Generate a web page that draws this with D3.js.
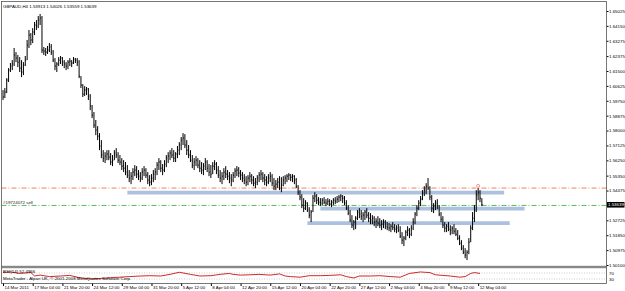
<!DOCTYPE html>
<html>
<head>
<meta charset="utf-8">
<script src="https://cdn.jsdelivr.net/npm/d3@7"></script>
<style>
  body { margin: 0; background: #fff; }
  svg { display: block; font-family: "Liberation Sans", Arial, sans-serif; }
</style>
</head>
<body>
<div id="chart"></div>
<script>
// GBPAUD H4 bars
const highs = [
  1.6038,1.6050,1.6108,1.6167,1.6197,1.6214,1.6285,1.6261,1.6244,1.6232,
  1.6214,1.6202,1.6238,1.6332,1.6391,1.6373,1.6402,1.6438,1.6449,1.6473,
  1.6485,1.6473,1.6291,1.6285,1.6297,1.6314,1.6308,1.6273,1.6226,1.6202,
  1.6232,1.6238,1.6232,1.6214,1.6202,1.6214,1.6226,1.6214,1.6232,1.6226,
  1.6226,1.6214,1.6120,1.6073,1.6061,1.6056,1.6050,1.6014,1.5950,1.5909,
  1.5862,1.5826,1.5785,1.5744,1.5685,1.5673,1.5685,1.5685,1.5668,1.5656,
  1.5685,1.5697,1.5673,1.5656,1.5638,1.5626,1.5615,1.5597,1.5568,1.5556,
  1.5579,1.5597,1.5591,1.5568,1.5556,1.5579,1.5591,1.5579,1.5556,1.5538,
  1.5544,1.5568,1.5579,1.5615,1.5638,1.5626,1.5603,1.5626,1.5656,1.5673,
  1.5685,1.5697,1.5685,1.5673,1.5709,1.5732,1.5762,1.5785,1.5779,1.5744,
  1.5715,1.5685,1.5656,1.5638,1.5650,1.5638,1.5626,1.5615,1.5609,1.5638,
  1.5626,1.5603,1.5597,1.5615,1.5626,1.5615,1.5591,1.5568,1.5556,1.5579,
  1.5591,1.5568,1.5556,1.5544,1.5556,1.5579,1.5591,1.5585,1.5568,1.5556,
  1.5544,1.5532,1.5538,1.5556,1.5544,1.5532,1.5521,1.5538,1.5556,1.5568,
  1.5556,1.5544,1.5532,1.5544,1.5556,1.5544,1.5521,1.5509,1.5521,1.5532,
  1.5526,1.5532,1.5538,1.5544,1.5550,1.5544,1.5544,1.5538,1.5521,1.5479,
  1.5450,1.5426,1.5403,1.5391,1.5379,1.5350,1.5333,1.5421,1.5438,1.5426,
  1.5409,1.5403,1.5403,1.5409,1.5397,1.5403,1.5397,1.5391,1.5403,1.5409,
  1.5415,1.5421,1.5426,1.5421,1.5415,1.5391,1.5362,1.5333,1.5303,1.5274,
  1.5297,1.5333,1.5344,1.5333,1.5321,1.5333,1.5344,1.5321,1.5315,1.5303,
  1.5297,1.5285,1.5297,1.5285,1.5274,1.5279,1.5274,1.5262,1.5256,1.5250,
  1.5262,1.5250,1.5244,1.5250,1.5238,1.5203,1.5180,1.5215,1.5238,1.5227,
  1.5244,1.5285,1.5321,1.5362,1.5391,1.5415,1.5450,1.5473,1.5491,1.5521,
  1.5473,1.5421,1.5374,1.5391,1.5397,1.5362,1.5321,1.5297,1.5262,1.5250,
  1.5262,1.5244,1.5238,1.5250,1.5227,1.5215,1.5185,1.5156,1.5127,1.5109,
  1.5097,1.5168,1.5244,1.5321,1.5362,1.5450,1.5462,1.5450,1.54026
];
const lows = [
  1.5979,1.5991,1.6020,1.6085,1.6144,1.6155,1.6179,1.6202,1.6173,1.6144,
  1.6114,1.6126,1.6179,1.6214,1.6285,1.6302,1.6314,1.6361,1.6391,1.6402,
  1.6420,1.6255,1.6244,1.6238,1.6250,1.6261,1.6244,1.6202,1.6155,1.6144,
  1.6179,1.6191,1.6179,1.6167,1.6155,1.6161,1.6179,1.6173,1.6191,1.6197,
  1.6179,1.6108,1.6050,1.5997,1.6003,1.6009,1.5979,1.5920,1.5873,1.5815,
  1.5773,1.5744,1.5685,1.5638,1.5615,1.5609,1.5626,1.5626,1.5597,1.5591,
  1.5626,1.5638,1.5609,1.5597,1.5568,1.5556,1.5538,1.5521,1.5497,1.5485,
  1.5509,1.5532,1.5521,1.5509,1.5497,1.5509,1.5532,1.5521,1.5485,1.5473,
  1.5479,1.5497,1.5509,1.5538,1.5568,1.5556,1.5538,1.5556,1.5585,1.5609,
  1.5626,1.5638,1.5615,1.5615,1.5638,1.5656,1.5685,1.5715,1.5697,1.5656,
  1.5638,1.5615,1.5579,1.5568,1.5591,1.5579,1.5556,1.5544,1.5538,1.5568,
  1.5556,1.5532,1.5521,1.5544,1.5568,1.5544,1.5521,1.5497,1.5485,1.5509,
  1.5521,1.5509,1.5491,1.5473,1.5497,1.5521,1.5532,1.5526,1.5509,1.5497,
  1.5485,1.5473,1.5479,1.5497,1.5485,1.5473,1.5462,1.5479,1.5497,1.5509,
  1.5497,1.5479,1.5473,1.5485,1.5497,1.5473,1.5450,1.5450,1.5462,1.5450,
  1.5438,1.5473,1.5485,1.5497,1.5509,1.5503,1.5497,1.5485,1.5462,1.5421,
  1.5391,1.5344,1.5321,1.5333,1.5321,1.5285,1.5262,1.5321,1.5379,1.5368,
  1.5362,1.5356,1.5362,1.5368,1.5356,1.5362,1.5356,1.5350,1.5362,1.5368,
  1.5374,1.5379,1.5385,1.5374,1.5362,1.5333,1.5303,1.5262,1.5227,1.5215,
  1.5221,1.5274,1.5285,1.5274,1.5262,1.5274,1.5285,1.5262,1.5250,1.5250,
  1.5238,1.5227,1.5238,1.5227,1.5215,1.5227,1.5221,1.5215,1.5209,1.5203,
  1.5215,1.5203,1.5197,1.5203,1.5168,1.5133,1.5121,1.5156,1.5180,1.5168,
  1.5180,1.5215,1.5250,1.5297,1.5333,1.5356,1.5391,1.5415,1.5426,1.5450,
  1.5391,1.5321,1.5315,1.5333,1.5338,1.5297,1.5262,1.5227,1.5203,1.5203,
  1.5209,1.5185,1.5191,1.5191,1.5180,1.5156,1.5127,1.5097,1.5074,1.5050,
  1.5039,1.5074,1.5144,1.5215,1.5262,1.5321,1.5391,1.5379,1.53559
];
const closes = [
  1.5997,1.6026,1.6097,1.6155,1.6179,1.6191,1.6244,1.6226,1.6202,1.6167,
  1.6144,1.6185,1.6214,1.6302,1.6361,1.6332,1.6379,1.6420,1.6414,1.6449,
  1.6461,1.6273,1.6267,1.6261,1.6273,1.6291,1.6261,1.6214,1.6179,1.6191,
  1.6214,1.6226,1.6202,1.6191,1.6179,1.6202,1.6208,1.6197,1.6220,1.6214,
  1.6202,1.6120,1.6067,1.6014,1.6038,1.6044,1.6003,1.5944,1.5891,1.5832,
  1.5803,1.5767,1.5709,1.5656,1.5638,1.5650,1.5662,1.5644,1.5615,1.5626,
  1.5668,1.5656,1.5626,1.5615,1.5591,1.5579,1.5556,1.5538,1.5521,1.5532,
  1.5556,1.5568,1.5544,1.5532,1.5521,1.5556,1.5568,1.5538,1.5509,1.5497,
  1.5521,1.5544,1.5556,1.5597,1.5615,1.5579,1.5568,1.5603,1.5638,1.5650,
  1.5668,1.5656,1.5638,1.5662,1.5685,1.5715,1.5744,1.5756,1.5715,1.5685,
  1.5656,1.5626,1.5597,1.5615,1.5626,1.5597,1.5579,1.5568,1.5591,1.5615,
  1.5579,1.5556,1.5544,1.5591,1.5603,1.5568,1.5538,1.5521,1.5532,1.5556,
  1.5544,1.5532,1.5521,1.5509,1.5538,1.5562,1.5568,1.5550,1.5538,1.5521,
  1.5509,1.5497,1.5521,1.5532,1.5509,1.5491,1.5497,1.5521,1.5538,1.5544,
  1.5521,1.5509,1.5497,1.5521,1.5532,1.5491,1.5473,1.5485,1.5497,1.5462,
  1.5479,1.5509,1.5521,1.5532,1.5538,1.5526,1.5532,1.5509,1.5473,1.5438,
  1.5409,1.5362,1.5344,1.5374,1.5333,1.5303,1.5321,1.5403,1.5415,1.5391,
  1.5379,1.5374,1.5391,1.5379,1.5374,1.5385,1.5368,1.5379,1.5391,1.5385,
  1.5397,1.5409,1.5415,1.5403,1.5374,1.5344,1.5315,1.5274,1.5244,1.5262,
  1.5285,1.5321,1.5309,1.5297,1.5303,1.5321,1.5303,1.5285,1.5274,1.5285,
  1.5262,1.5268,1.5256,1.5244,1.5250,1.5262,1.5238,1.5232,1.5227,1.5238,
  1.5232,1.5221,1.5227,1.5215,1.5180,1.5156,1.5168,1.5203,1.5215,1.5191,
  1.5227,1.5262,1.5309,1.5344,1.5374,1.5397,1.5432,1.5450,1.5473,1.5462,
  1.5409,1.5344,1.5356,1.5374,1.5356,1.5309,1.5279,1.5244,1.5227,1.5238,
  1.5221,1.5215,1.5227,1.5209,1.5191,1.5168,1.5138,1.5109,1.5085,1.5068,
  1.5085,1.5144,1.5227,1.5285,1.5333,1.5421,1.5438,1.5403,1.53639
];

const dateLabels = ["14 Mar 2011","17 Mar 04:00","21 Mar 20:00","24 Mar 12:00","29 Mar 04:00",
  "31 Mar 20:00","5 Apr 12:00","8 Apr 04:00","12 Apr 20:00","15 Apr 12:00","20 Apr 04:00",
  "22 Apr 20:00","27 Apr 12:00","2 May 04:00","4 May 20:00","9 May 12:00","12 May 04:00"];
const barsPerLabel = 16;
const priceTicks = [1.65025,1.64150,1.63275,1.62375,1.61500,1.60625,1.59750,1.58875,1.58000,
  1.57125,1.56250,1.55350,1.54475,1.52725,1.51850,1.50975,1.50100];

// indicator window (red line), sampled along the bars
const rsiBars   = [0,4,9,15,17,20,25,31,36,41,47,52,58,63,68,74,79,85,90,95,101,106,112,117,122,124,
  128,133,138,144,149,152,155,160,165,171,176,182,185,189,192,198,203,209,214,219,225,227,230,233,
  235,241,246,249,252,254,257];
const rsiValues = [73,77,67,73,50,56,46,50,54,39,31,33,39,42,46,50,52,50,61,75,61,50,52,61,67,61,
  56,58,61,56,64,50,46,42,52,52,54,58,46,37,50,50,52,46,42,67,77,75,73,58,56,50,42,46,67,73,67];
const rsiLevels = [70, 30];

const header = "GBPAUD,H4 1.53913 1.54026 1.53559 1.53639";
const lastPrice = 1.53639;
const stopLevel = 1.5462;
const orderLevel = 1.5360;
const orderLabel = "#19724072 sell";
const zonePrices = [1.5435, 1.5341, 1.5256];
const zoneStart  = [67, 171, 164];
const zoneEnd    = [270, 281, 273];

const W = 625, H = 291;
const axisX = 606.5, mainTop = 1.5, sepY = 267, subBottom = 283.5;
const fs = 4.4;

const svg = d3.select("#chart").append("svg")
  .attr("width", W).attr("height", H)
  .attr("viewBox", `0 0 ${W} ${H}`);

const x = d3.scaleLinear().domain([0, 325]).range([3, 606.2]);
const y = d3.scaleLinear().domain([1.50100, 1.65025]).range([265, 11]);
const yR = d3.scaleLinear().domain([0, 100]).range([283.5, 268.5]);

// zones (thick blue lines)
svg.append("g").selectAll("line")
  .data(zonePrices).enter().append("line")
  .attr("x1", (d,i) => x(zoneStart[i])).attr("x2", (d,i) => x(zoneEnd[i]))
  .attr("y1", d => y(d)).attr("y2", d => y(d))
  .attr("stroke", "#abc1dd").attr("stroke-width", 3.6);

// stop and order lines
svg.append("line")
  .attr("x1", 1.5).attr("x2", axisX).attr("y1", y(stopLevel)).attr("y2", y(stopLevel))
  .attr("stroke", "#f2805f").attr("stroke-width", 1).attr("stroke-dasharray", "5,2,1,2");
svg.append("line")
  .attr("x1", 1.5).attr("x2", axisX).attr("y1", y(orderLevel)).attr("y2", y(orderLevel))
  .attr("stroke", "#5cb85c").attr("stroke-width", 1).attr("stroke-dasharray", "5,2,1,2");
svg.append("text").attr("x", 3).attr("y", y(orderLevel) - 1.2)
  .attr("font-size", fs).attr("fill", "#222").text(orderLabel);

// bars
const bars = svg.append("g").attr("stroke", "#000").attr("fill", "none");
bars.selectAll("path")
  .data(closes).enter().append("path")
  .attr("stroke-width", 1)
  .attr("d", (c,i) => `M${x(i)},${y(highs[i])}V${y(lows[i])}M${x(i)},${y(c)}h0.9`);

// order arrow
svg.append("circle")
  .attr("cx", x(256)).attr("cy", y(highs[256]) - 2.2).attr("r", 1.5)
  .attr("fill", "none").attr("stroke", "#f07060").attr("stroke-width", 0.7);

// header
svg.append("text").attr("x", 3).attr("y", 8)
  .attr("font-size", fs).attr("fill", "#000").text(header);

// right price axis
const yAxis = d3.axisRight(y).tickValues(priceTicks).tickSize(2)
  .tickFormat(d3.format(".5f"));
const ya = svg.append("g").attr("transform", `translate(${axisX},0)`).call(yAxis);
ya.select(".domain").remove();
ya.selectAll("text").attr("font-size", fs).attr("x", 2.5).attr("fill", "#000")
  .style("font-family", "Liberation Sans, Arial, sans-serif");
ya.selectAll("line").attr("stroke", "#000");

// current price box
svg.append("rect").attr("x", axisX + 0.5).attr("y", y(lastPrice) - 2.8)
  .attr("width", 17.5).attr("height", 5.6).attr("fill", "#000");
svg.append("text").attr("x", axisX + 1.5).attr("y", y(lastPrice) + 1.6)
  .attr("font-size", fs).attr("fill", "#fff").text(lastPrice.toFixed(5));

// indicator subwindow
svg.append("rect").attr("x", 1.5).attr("y", sepY - 1.2).attr("width", axisX - 1.5).attr("height", 2.4)
  .attr("fill", "#888");
svg.append("g").selectAll("line").data(rsiLevels).enter().append("line")
  .attr("x1", 1.5).attr("x2", axisX).attr("y1", d => yR(d)).attr("y2", d => yR(d))
  .attr("stroke", "#aaa").attr("stroke-width", 0.6).attr("stroke-dasharray", "1,1.5");
svg.append("path")
  .attr("d", d3.line().x((d,i) => x(rsiBars[i])).y(d => yR(d))(rsiValues))
  .attr("fill", "none").attr("stroke", "#cc1111").attr("stroke-width", 0.9);
svg.append("text").attr("x", 3).attr("y", 272.5).attr("font-size", fs).attr("fill", "#000")
  .text("RSI(14) 52.4966");
svg.append("text").attr("x", 3).attr("y", 280).attr("font-size", fs).attr("fill", "#000")
  .text("MetaTrader - Alpari UK, \u00a9 2001-2008 MetaQuotes Software Corp.");
svg.append("g").selectAll("text").data(rsiLevels).enter().append("text")
  .attr("x", axisX + 2.5).attr("y", d => yR(d) + 1.5).attr("font-size", fs).text(d => d);

// frame
svg.append("rect").attr("x", 1.5).attr("y", mainTop).attr("width", axisX - 1.5)
  .attr("height", subBottom - mainTop).attr("fill", "none").attr("stroke", "#555").attr("stroke-width", 0.8);

// time axis
const xAxis = d3.axisBottom(x)
  .tickValues(dateLabels.map((d,k) => k * barsPerLabel))
  .tickFormat((d,k) => dateLabels[k]).tickSize(2.5);
const xa = svg.append("g").attr("transform", `translate(0,${subBottom})`).call(xAxis);
xa.select(".domain").remove();
xa.selectAll("text").attr("font-size", fs).attr("text-anchor", "start")
  .attr("x", 1).attr("y", 2).attr("dy", "0.71em").attr("fill", "#000")
  .style("font-family", "Liberation Sans, Arial, sans-serif");
xa.selectAll("line").attr("stroke", "#000");
</script>
</body>
</html>
